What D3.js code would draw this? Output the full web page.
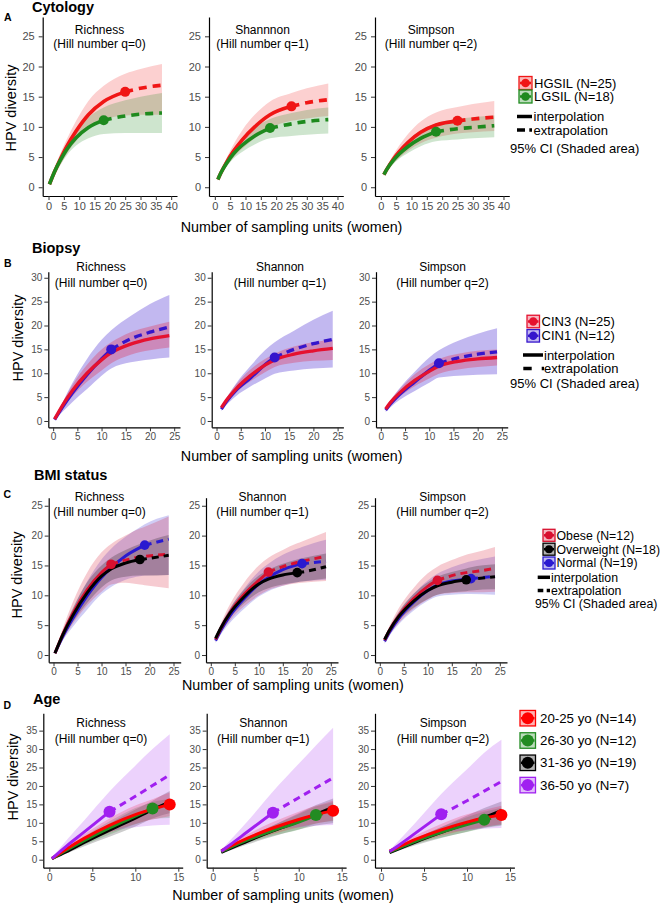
<!DOCTYPE html>
<html><head><meta charset="utf-8">
<script src="https://cdn.jsdelivr.net/npm/d3@7"></script>
<style>body{margin:0;background:#fff}svg{display:block}</style>
</head><body><svg id="c" width="666" height="903"></svg>
<script>
// ---------------- DATA ----------------
const hillLabels = ["(Hill number q=0)", "(Hill number q=1)", "(Hill number q=2)"];
const cytoTitles = ["Richness", "Shannnon", "Simpson"];
const otherTitles = ["Richness", "Shannon", "Simpson"];
const ciLabel = "95% CI (Shaded area)";
const methodLabels = ["interpolation", "extrapolation"];
const xAxisTitle = "Number of sampling units (women)";
const yAxisTitle = "HPV diversity";

// Row A - Cytology
const cytoGroups = ["HGSIL (N=25)", "LGSIL (N=18)"];
const cytoN = [25, 18];
const cytoXTicks = [0, 5, 10, 15, 20, 25, 30, 35, 40];
const cytoYTicks = [0, 5, 10, 15, 20, 25];
const cytoX = [[0.3,2,4,6,9,13,18,25,30,37],[1,2,4,6,9,13,18,25,30,37],[1,2,4,6,9,13,18,25,30,37]];
const cytoEst = [
  [[0.5,2.6,4.8,6.8,9.3,12.0,14.2,15.8,16.4,16.9],[0.5,2.6,4.6,6.3,8.2,9.9,11.1,11.8,12.1,12.3]],
  [[1.3,2.4,4.3,5.9,7.9,10.0,12.0,13.4,14.0,14.5],[1.3,2.4,4.1,5.5,7.0,8.5,9.8,10.5,10.9,11.2]],
  [[2.1,3.0,4.6,5.9,7.5,9.1,10.3,11.0,11.3,11.6],[2.1,3.0,4.4,5.5,6.8,8.1,9.2,9.7,9.9,10.2]]
];
const cytoLo = [
  [[0.4,2.0,3.8,5.6,7.7,9.8,11.2,11.9,12.0,12.0],[0.4,2.0,3.8,5.3,6.9,8.1,8.8,9.0,9.0,9.0]],
  [[1.1,2.0,3.6,4.9,6.4,8.1,9.8,11.0,11.4,11.8],[1.1,2.0,3.5,4.7,5.9,7.1,8.1,8.5,8.7,8.9]],
  [[1.9,2.6,3.9,4.9,6.1,7.3,8.2,8.9,9.1,9.3],[1.9,2.6,3.8,4.7,5.7,6.8,7.6,7.9,8.1,8.3]]
];
const cytoHi = [
  [[0.6,3.2,5.8,8.0,11.0,14.3,16.8,18.8,19.6,20.4],[0.6,3.1,5.4,7.3,9.5,11.6,13.2,14.4,15.0,15.6]],
  [[1.5,2.8,5.0,7.0,9.5,12.0,14.2,15.6,16.4,17.2],[1.5,2.8,4.7,6.3,8.1,9.9,11.3,12.3,12.8,13.2]],
  [[2.3,3.4,5.3,6.9,8.9,10.9,12.4,13.3,13.8,14.3],[2.3,3.4,5.0,6.3,7.9,9.4,10.6,11.3,11.6,11.9]]
];

// Row B - Biopsy
const biopGroups = ["CIN3 (N=25)", "CIN1 (N=12)"];
const biopN = [25, 12];
const biopXTicks = [0, 5, 10, 15, 20, 25];
const biopYTicks = [0, 5, 10, 15, 20, 25, 30];
const biopX = [[0.3,2,4,7,10,12,16,20,24],[1,2,4,7,10,12,16,20,24],[1,2,4,7,10,12,16,20,24]];
const biopEst = [
  [[0.4,3.4,6.4,10.0,12.8,14.3,16.1,17.2,17.9],[0.3,3.0,5.9,9.7,13.0,15.0,17.2,18.6,19.7]],
  [[2.8,4.3,6.7,9.5,11.7,12.8,14.0,14.7,15.2],[2.5,4.0,6.4,9.0,11.8,13.3,15.0,16.2,17.1]],
  [[2.5,3.9,6.0,8.5,10.4,11.5,12.5,13.0,13.3],[2.3,3.6,5.7,8.2,10.6,12.1,13.2,14.0,14.5]]
];
const biopLo = [
  [[0.3,2.8,5.2,8.2,10.6,12.1,13.9,14.8,15.4],[0.2,2.0,4.0,6.7,9.5,11.0,12.3,12.9,13.3]],
  [[2.5,3.8,5.9,8.3,10.2,11.3,12.2,12.6,12.8],[2.1,3.3,5.2,7.2,8.9,9.9,10.6,11.0,11.2]],
  [[2.2,3.4,5.2,7.3,8.9,9.9,10.8,11.3,11.6],[1.9,2.9,4.5,6.3,8.0,9.1,9.5,9.7,9.8]]
];
const biopHi = [
  [[0.5,4.0,7.6,11.8,15.0,16.5,18.6,19.8,20.8],[0.5,4.0,8.0,13.0,17.0,19.0,22.0,24.5,26.4]],
  [[3.1,4.8,7.6,10.8,13.0,14.1,15.6,16.5,17.0],[2.9,4.7,7.8,11.5,14.8,16.5,18.9,21.2,23.1]],
  [[2.8,4.4,6.8,9.8,11.9,13.0,14.1,14.7,15.0],[2.7,4.3,7.0,10.3,13.3,14.8,16.8,18.3,19.4]]
];

// Row C - BMI status
const bmiGroups = ["Obese (N=12)", "Overweight (N=18)", "Normal (N=19)"];
const bmiN = [12, 18, 19];
const bmiXTicks = [0, 5, 10, 15, 20, 25];
const bmiYTicks = [0, 5, 10, 15, 20, 25];
const bmiX = [[0.3,2,4,7,10,12,15,18,19,24],[1,2,4,7,10,12,15,18,19,24],[1,2,4,7,10,12,15,18,19,24]];
const bmiEst = [
  [[0.3,3.6,6.9,10.9,13.8,15.2,15.9,16.4,16.5,16.9],[0.3,3.5,6.6,10.4,13.2,14.4,15.4,16.0,16.1,16.7],[0.3,3.2,6.1,9.9,13.0,14.6,16.6,18.0,18.4,19.4]],
  [[2.6,4.3,7.1,10.2,12.5,13.9,14.8,15.5,15.7,16.5],[2.8,4.4,7.0,9.8,11.9,12.7,13.4,13.8,13.9,14.8],[2.4,4.0,6.6,9.5,11.9,13.0,14.3,15.1,15.3,15.7]],
  [[2.5,4.1,6.6,9.4,11.5,12.5,13.3,13.8,13.9,14.5],[2.6,4.1,6.5,9.0,10.8,11.6,12.2,12.6,12.7,13.1],[2.3,3.8,6.2,8.8,10.8,11.7,12.4,12.7,12.8,13.2]]
];
const bmiLo = [
  [[0.2,2.7,5.2,8.3,10.6,11.8,12.1,11.8,11.7,11.2],[0.2,2.9,5.5,8.7,11.3,12.5,13.1,13.3,13.3,13.4],[0.2,2.5,4.7,7.6,10.2,11.4,12.6,13.2,13.3,13.4]],
  [[2.2,3.6,5.8,8.2,10.0,10.9,11.6,12.0,12.1,12.4],[2.5,3.9,6.2,8.7,10.5,11.2,11.8,12.2,12.3,12.8],[2.0,3.3,5.4,7.8,9.8,10.7,11.6,12.2,12.3,12.6]],
  [[2.1,3.4,5.4,7.7,9.3,10.1,10.4,10.5,10.5,10.6],[2.3,3.6,5.8,7.9,9.4,10.1,10.5,10.7,10.8,11.0],[1.9,3.2,5.2,7.4,9.1,9.8,10.1,10.2,10.2,10.1]]
];
const bmiHi = [
  [[0.5,4.6,8.8,13.8,17.2,18.6,20.0,21.2,21.5,23.2],[0.4,4.2,7.8,12.2,15.0,16.3,17.6,18.6,18.9,20.1],[0.4,4.0,7.6,12.3,16.0,17.8,19.8,21.4,21.9,23.4]],
  [[3.0,5.1,8.5,12.2,15.0,16.3,17.6,18.7,19.0,20.6],[3.1,4.9,7.8,11.0,13.3,14.3,15.3,16.0,16.2,17.0],[2.8,4.7,7.8,11.2,14.0,15.3,16.8,17.8,18.1,19.3]],
  [[2.9,4.8,7.9,11.2,13.7,14.8,15.9,16.8,17.0,18.1],[3.0,4.6,7.3,10.2,12.2,13.1,13.9,14.5,14.7,15.2],[2.7,4.4,7.2,10.2,12.5,13.6,14.7,15.5,15.7,16.5]]
];

// Row D - Age
const ageGroups = ["20-25 yo (N=14)", "26-30 yo (N=12)", "31-36 yo (N=19)", "36-50 yo (N=7)"];
const ageN = [14, 12, 19, 7];
const ageXTicks = [0, 5, 10, 15];
const ageYTicks = [0, 5, 10, 15, 20, 25, 30, 35];
const ageX = [[0.3,2,4,7,10,12,14],[1,2,4,7,10,12,14],[1,2,4,7,10,12,14]];
const ageEst = [
  [[0.3,2.9,5.7,9.3,12.2,13.7,15.0],[0.3,2.6,5.1,8.6,11.8,13.9,14.8],[0.3,2.2,4.6,8.0,11.3,13.6,15.6],[0.3,3.7,7.4,13.0,17.2,20.1,23.0]],
  [[2.4,3.6,5.8,8.6,10.9,12.2,13.3],[2.2,3.3,5.3,7.9,10.2,12.1,13.0],[2.0,3.0,5.0,7.8,10.4,12.3,14.3],[2.3,4.0,7.5,12.75,16.8,19.5,22.2]],
  [[2.3,3.4,5.5,8.1,10.2,11.3,12.1],[2.1,3.1,5.0,7.4,9.5,10.8,11.8],[1.9,2.9,4.8,7.4,9.8,11.5,13.3],[2.2,3.8,7.2,12.3,16.0,18.6,21.2]]
];
const ageLo = [
  [[0.2,2.4,4.6,7.4,9.7,10.9,11.8],[0.2,2.1,4.0,6.8,9.6,11.0,11.3],[0.2,1.7,3.6,6.2,9.0,11.2,12.6],[0.1,2.1,4.3,7.5,8.8,9.3,9.5]],
  [[2.1,3.1,4.8,7.0,8.8,9.8,10.6],[1.9,2.8,4.5,6.5,8.1,9.8,10.4],[1.7,2.5,4.1,6.3,8.2,9.3,9.9],[1.8,2.8,4.7,7.8,8.8,9.2,9.4]],
  [[2.0,2.9,4.5,6.5,8.1,8.9,9.6],[1.8,2.6,4.2,6.0,7.5,8.6,9.2],[1.6,2.4,3.9,5.9,7.6,8.7,9.4],[1.8,2.7,4.6,7.3,8.0,8.4,8.6]]
];
const ageHi = [
  [[0.4,3.4,6.8,11.2,14.7,16.4,18.2],[0.4,3.1,6.2,10.4,14.0,15.6,16.5],[0.4,2.7,5.6,9.8,13.6,16.0,18.6],[0.5,5.3,10.5,18.5,25.5,30.0,34.0]],
  [[2.7,4.1,6.8,10.2,13.0,14.6,16.0],[2.5,3.8,6.1,9.3,12.3,14.4,15.6],[2.3,3.5,5.9,9.3,12.6,14.8,16.6],[2.6,5.2,10.3,18.5,26.0,31.0,35.8]],
  [[2.6,3.9,6.5,9.7,12.3,13.5,14.6],[2.4,3.6,5.8,8.8,11.5,13.0,14.1],[2.2,3.4,5.7,8.9,12.0,14.0,15.8],[2.5,5.0,10.0,17.8,24.5,29.0,32.5]]
];

// ---------------- STYLE / LAYOUT ----------------
const FONT = '"Liberation Sans", Arial, Helvetica, sans-serif';
const rows = [
  { letter:"A", head:"Cytology", headX:32, headY:7, letterXY:[4,17.5],
    titles:cytoTitles, groups:cytoGroups, N:cytoN, X:cytoX, est:cytoEst, lo:cytoLo, hi:cytoHi,
    xTicks:cytoXTicks, yTicks:cytoYTicks,
    colors:["#f01616","#1e8a1e"], fillAlpha:[0.2,0.22], order:[0,1],
    axisX:[42.7,209,375], width:134.3, xDom:[-1.9,41.9], top:17, bottom:196, yDom:[-1.45,28.2],
    tickFont:11, yPad:4, titleX:[99.5,262.5,431], titleY:[29.5,44],
    lw:3.6, dash:"8,6", r:5, yTitle:[11,108], xTitle:[291.5,227],
    legend:{keyX:519, key:13, ys:[83,96.5], textX:534, font:13, r:4.3,
      interpY:116.5, lineX:[517,532], dashes:[[517,525],[529.3,532]], methodX:533.5, extrapY:130, ciX:510, ciY:148, method:true}},
  { letter:"B", head:"Biopsy", headX:32, headY:248, letterXY:[4,263],
    titles:otherTitles, groups:biopGroups, N:biopN, X:biopX, est:biopEst, lo:biopLo, hi:biopHi,
    xTicks:biopXTicks, yTicks:biopYTicks,
    colors:["#e5112f","#3515cc"], fillAlpha:[0.28,0.3], order:[1,0],
    axisX:[48.3,211.7,376], width:131.7, xDom:[-1.0,26.2], top:271.7, bottom:427.3, yDom:[-1.32,31.27],
    tickFont:10, yPad:2, titleX:[101,280,442.5], titleY:[267,283],
    lw:3.3, dash:"8,5", r:5, yTitle:[18,338], xTitle:[291.7,455.5],
    legend:{keyX:527, key:12.5, ys:[321.5,335.8], textX:541.5, font:13, r:4.2,
      interpY:355, lineX:[523,543], dashes:[[523.3,531.7],[541.7,544]], methodX:544, extrapY:368.5, ciX:510, ciY:383.5, method:true}},
  { letter:"C", head:"BMI status", headX:34, headY:475, letterXY:[3.5,494.5],
    titles:otherTitles, groups:bmiGroups, N:bmiN, X:bmiX, est:bmiEst, lo:bmiLo, hi:bmiHi,
    xTicks:bmiXTicks, yTicks:bmiYTicks,
    colors:["#d8102f","#000000","#2a1ad0"], fillAlpha:[0.22,0.22,0.22], order:[2,0,1],
    axisX:[48.7,206,375], width:132, xDom:[-1.0,26.5], top:497.7, bottom:662.3, yDom:[-1.22,26.35],
    tickFont:10, yPad:2, titleX:[99.5,262.5,442.5], titleY:[496.5,512],
    lw:3, dash:"7,5", r:4.8, yTitle:[17,575], xTitle:[292.8,685],
    legend:{keyX:543, key:12, ys:[535.3,549.2,563.0], textX:556.5, font:12.3, r:4.0,
      interpY:577.3, lineX:[537.7,550], dashes:[[537.7,543.3],[546.7,550]], methodX:551, extrapY:590.5, ciX:535, ciY:604, method:true}},
  { letter:"D", head:"Age", headX:33, headY:699, letterXY:[3.5,705.5],
    titles:otherTitles, groups:ageGroups, N:ageN, X:ageX, est:ageEst, lo:ageLo, hi:ageHi,
    xTicks:ageXTicks, yTicks:ageYTicks,
    colors:["#ff0000","#228b22","#000000","#a020f0"], fillAlpha:[0.2,0.22,0.2,0.2], order:[2,1,0,3],
    axisX:[43.3,206.7,375], width:139.4, xDom:[-0.7,15.51], top:713.3, bottom:867.7, yDom:[-2.17,39.7],
    tickFont:10, yPad:2, titleX:[101,263.3,443], titleY:[723,738.5],
    lw:3, dash:"7,5", r:6, yTitle:[13,777], xTitle:[283,894.5],
    legend:{keyX:520, key:15.5, ys:[718.2,740.5,762.8,785.1], textX:540, font:13.3, r:6, method:false}}
];

// ---------------- DRAW ----------------
const svg = d3.select("#c").style("font-family", FONT);

function rgba(c, a){ const k = d3.rgb(c); k.opacity = a; return k.formatRgb(); }

rows.forEach(row => {
  const g = svg.append("g");
  g.append("text").attr("x", row.headX).attr("y", row.headY).attr("dy","0.35em")
    .attr("font-size", 14.5).attr("font-weight","bold").attr("fill","#000").text(row.head);
  g.append("text").attr("x", row.letterXY[0]).attr("y", row.letterXY[1]).attr("dy","0.35em")
    .attr("font-size", 10.5).attr("font-weight","bold").attr("fill","#000").text(row.letter);
  g.append("text").attr("transform", `translate(${row.yTitle[0]},${row.yTitle[1]}) rotate(-90)`)
    .attr("text-anchor","middle").attr("dy","0.35em").attr("font-size",14.5).attr("fill","#000").text(yAxisTitle);
  g.append("text").attr("x", row.xTitle[0]).attr("y", row.xTitle[1]).attr("dy","0.35em")
    .attr("text-anchor","middle").attr("font-size",14.3).attr("fill","#000").text(xAxisTitle);

  for (let p = 0; p < 3; p++) {
    const pg = g.append("g");
    const x = d3.scaleLinear().domain(row.xDom).range([row.axisX[p], row.axisX[p] + row.width]);
    const y = d3.scaleLinear().domain(row.yDom).range([row.bottom, row.top]);
    const xs = row.X[p];

    // fills
    row.order.forEach(gi => {
      const pts = xs.map((xv, i) => [xv, row.lo[p][gi][i], row.hi[p][gi][i]]);
      pg.append("path").datum(pts)
        .attr("d", d3.area().x(d => x(d[0])).y0(d => y(d[1])).y1(d => y(d[2])).curve(d3.curveMonotoneX))
        .attr("fill", rgba(row.colors[gi], row.fillAlpha[gi])).attr("stroke","none");
    });
    // lines
    const line = d3.line().x(d => x(d[0])).y(d => y(d[1])).curve(d3.curveMonotoneX);
    row.order.forEach(gi => {
      const pts = xs.map((xv, i) => [xv, row.est[p][gi][i]]);
      const N = row.N[gi];
      const solid = pts.filter(d => d[0] <= N);
      const dashed = pts.filter(d => d[0] >= N);
      if (solid.length > 1) pg.append("path").datum(solid).attr("d", line)
        .attr("fill","none").attr("stroke", row.colors[gi]).attr("stroke-width", row.lw);
      if (dashed.length > 1) pg.append("path").datum(dashed).attr("d", line)
        .attr("fill","none").attr("stroke", row.colors[gi]).attr("stroke-width", row.lw)
        .attr("stroke-dasharray", row.dash);
    });
    // observed points
    row.order.forEach(gi => {
      const i = xs.indexOf(row.N[gi]);
      if (i >= 0) pg.append("circle").attr("cx", x(xs[i])).attr("cy", y(row.est[p][gi][i]))
        .attr("r", row.r).attr("fill", row.colors[gi]);
    });

    // axes
    const ax = pg.append("g").attr("transform", `translate(0,${row.bottom})`)
      .call(d3.axisBottom(x).tickValues(row.xTicks).tickSize(4).tickSizeOuter(0).tickPadding(2));
    const ay = pg.append("g").attr("transform", `translate(${row.axisX[p]},0)`)
      .call(d3.axisLeft(y).tickValues(row.yTicks).tickSize(4).tickSizeOuter(0).tickPadding(row.yPad));
    [ax, ay].forEach(a => {
      a.select(".domain").attr("stroke","#000").attr("stroke-width",1.2);
      a.selectAll(".tick line").attr("stroke","#333").attr("stroke-width",1);
      a.selectAll(".tick text").attr("fill","#4d4d4d").attr("font-size", row.tickFont).attr("font-family", FONT);
    });

    // panel titles
    pg.append("text").attr("x", row.titleX[p]).attr("y", row.titleY[0]).attr("dy","0.35em")
      .attr("text-anchor","middle").attr("font-size",12).attr("fill","#000").text(row.titles[p]);
    pg.append("text").attr("x", row.titleX[p]).attr("y", row.titleY[1]).attr("dy","0.35em")
      .attr("text-anchor","middle").attr("font-size",12).attr("fill","#000").text(hillLabels[p]);
  }

  // legend
  const L = row.legend, lg = g.append("g");
  row.groups.forEach((name, gi) => {
    const cy = L.ys[gi], k = L.key;
    lg.append("rect").attr("x", L.keyX).attr("y", cy - k/2).attr("width", k).attr("height", k)
      .attr("fill", rgba(row.colors[gi], 0.3)).attr("stroke", row.colors[gi]).attr("stroke-width", 1.3);
    lg.append("line").attr("x1", L.keyX + 1).attr("x2", L.keyX + k - 1).attr("y1", cy).attr("y2", cy)
      .attr("stroke", row.colors[gi]).attr("stroke-width", 2.5);
    lg.append("circle").attr("cx", L.keyX + k/2).attr("cy", cy).attr("r", L.r).attr("fill", row.colors[gi]);
    lg.append("text").attr("x", L.textX).attr("y", cy).attr("dy","0.35em")
      .attr("font-size", L.font).attr("fill","#000").text(name);
  });
  if (L.method) {
    lg.append("line").attr("x1", L.lineX[0]).attr("x2", L.lineX[1]).attr("y1", L.interpY).attr("y2", L.interpY)
      .attr("stroke","#000").attr("stroke-width",3.5);
    lg.append("text").attr("x", L.methodX).attr("y", L.interpY).attr("dy","0.35em")
      .attr("font-size", L.font).attr("fill","#000").text(methodLabels[0]);
    L.dashes.forEach(dd => lg.append("line").attr("x1", dd[0]).attr("x2", dd[1])
      .attr("y1", L.extrapY).attr("y2", L.extrapY).attr("stroke","#000").attr("stroke-width",3.5));
    lg.append("text").attr("x", L.methodX).attr("y", L.extrapY).attr("dy","0.35em")
      .attr("font-size", L.font).attr("fill","#000").text(methodLabels[1]);
    lg.append("text").attr("x", L.ciX).attr("y", L.ciY).attr("dy","0.35em")
      .attr("font-size", L.font).attr("fill","#000").text(ciLabel);
  }
});
</script>
</body></html>
